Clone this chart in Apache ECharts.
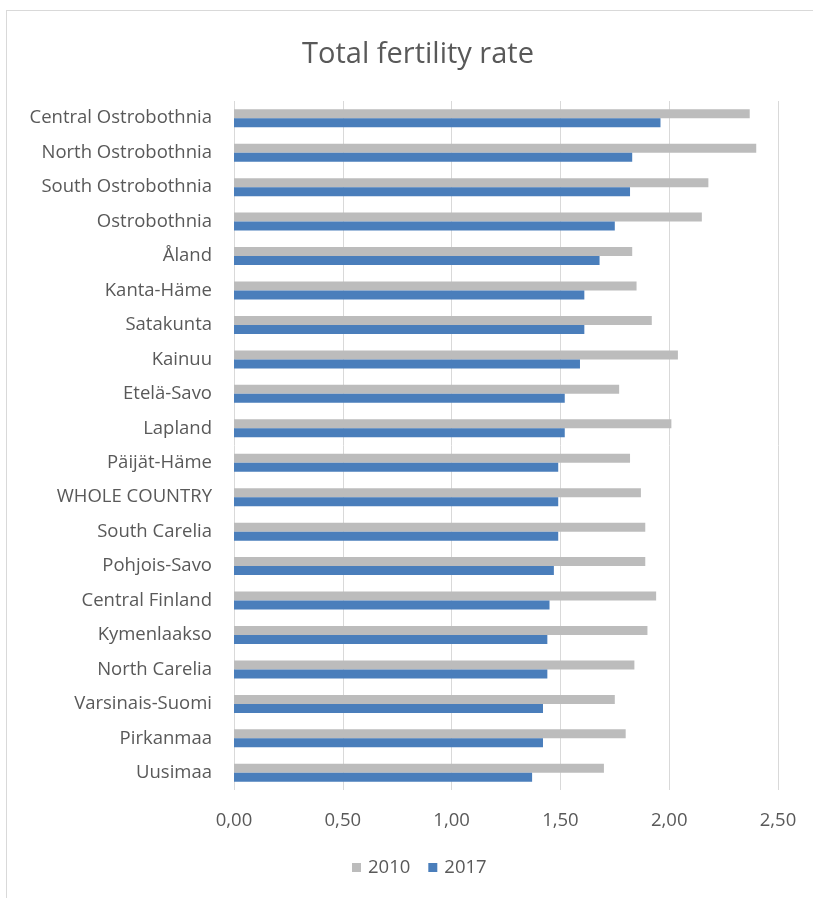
<!DOCTYPE html>
<html>
<head>
<meta charset="utf-8">
<script src="https://cdn.jsdelivr.net/npm/echarts@6/dist/echarts.min.js"></script>
<style>
  html, body { margin: 0; padding: 0; background: #ffffff; overflow: hidden; width: 813px; height: 898px; }
  #frame { position: absolute; left: 6px; top: 10px; width: 830px; height: 900px;
           border-left: 1px solid #d9d9d9; border-top: 1px solid #d9d9d9; }
  #chart { position: absolute; left: 0; top: 0; width: 813px; height: 898px; }
</style>
</head>
<body>
<div id="frame"></div>
<div id="chart"></div>
<script>
// Regions, listed top to bottom
const regions = [
  'Central Ostrobothnia', 'North Ostrobothnia', 'South Ostrobothnia', 'Ostrobothnia',
  'Åland', 'Kanta-Häme', 'Satakunta', 'Kainuu', 'Etelä-Savo', 'Lapland',
  'Päijät-Häme', 'WHOLE COUNTRY', 'South Carelia', 'Pohjois-Savo', 'Central Finland',
  'Kymenlaakso', 'North Carelia', 'Varsinais-Suomi', 'Pirkanmaa', 'Uusimaa'
];

// Total fertility rate, 2010
const tfr2010 = [
  2.37, 2.40, 2.18, 2.15,
  1.83, 1.85, 1.92, 2.04, 1.77, 2.01,
  1.82, 1.87, 1.89, 1.89, 1.94,
  1.90, 1.84, 1.75, 1.80, 1.70
];

// Total fertility rate, 2017
const tfr2017 = [
  1.96, 1.83, 1.82, 1.75,
  1.68, 1.61, 1.61, 1.59, 1.52, 1.52,
  1.49, 1.49, 1.49, 1.47, 1.45,
  1.44, 1.44, 1.42, 1.42, 1.37
];

// Value axis tick labels (decimal comma)
const xTickLabels = ['0,00', '0,50', '1,00', '1,50', '2,00', '2,50'];
const xStep = 0.5;

const textColor = '#595959';
const fontFamily = '"Open Sans", "Noto Sans", sans-serif';

const chart = echarts.init(document.getElementById('chart'), null, { renderer: 'canvas' });

chart.setOption({
  animation: false,
  backgroundColor: 'transparent',
  textStyle: { fontFamily: fontFamily },
  title: {
    text: 'Total fertility rate',
    left: 413,
    top: 35,
    textAlign: 'center',
    textStyle: { color: textColor, fontSize: 29, fontWeight: 'normal', fontFamily: fontFamily }
  },
  legend: {
    bottom: 16,
    left: 347,
    itemWidth: 9,
    itemHeight: 9,
    itemGap: 18,
    icon: 'rect',
    textStyle: { color: textColor, fontSize: 18.5, fontFamily: fontFamily, padding: [0, 0, 0, 2] },
    data: ['2010', '2017']
  },
  grid: { left: 234, right: 35, top: 101, bottom: 108, containLabel: false },
  xAxis: {
    type: 'value',
    min: 0,
    max: 2.5,
    interval: xStep,
    axisLine: { show: false },
    axisTick: { show: false },
    splitLine: { show: true, lineStyle: { color: '#d9d9d9', width: 1 } },
    axisLabel: {
      color: textColor,
      fontSize: 18.5,
      margin: 21,
      formatter: function (v) { return xTickLabels[Math.round(v / xStep)]; }
    }
  },
  yAxis: {
    type: 'category',
    inverse: true,
    data: regions,
    axisLine: { show: false },
    axisTick: { show: false },
    axisLabel: { color: textColor, fontSize: 18.5, margin: 22, padding: [3, 0, 0, 0] }
  },
  series: [
    {
      name: '2010',
      type: 'bar',
      data: tfr2010,
      barWidth: 9,
      barGap: '0%',
      itemStyle: { color: '#bcbcbc' }
    },
    {
      name: '2017',
      type: 'bar',
      data: tfr2017,
      barWidth: 9,
      barGap: '0%',
      itemStyle: { color: '#4a7ebb' }
    }
  ]
});
</script>
</body>
</html>
